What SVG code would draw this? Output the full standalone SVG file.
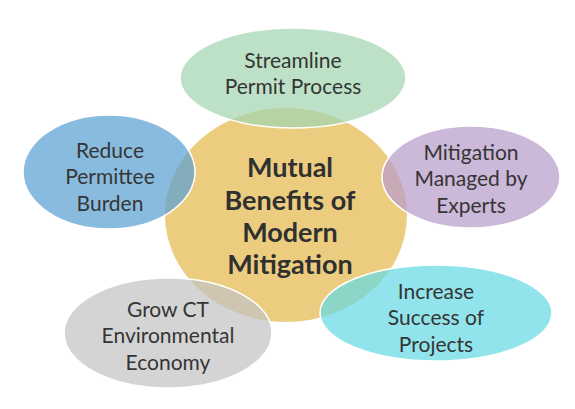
<svg xmlns="http://www.w3.org/2000/svg" width="575" height="409" viewBox="0 0 575 409">
<style>
.o{stroke:#fff;stroke-width:1.5;fill-opacity:0.72}
.t{font-family:Lato,"Liberation Sans",sans-serif;font-size:21px;fill:#353535;text-anchor:middle}
.c{font-family:Lato,"Liberation Sans",sans-serif;font-size:27px;font-weight:bold;fill:#303030;text-anchor:middle}
</style>
<rect width="575" height="409" fill="#fff"/>
<g id="center">
<ellipse cx="286" cy="215" rx="121" ry="107" fill="#ECCD80"/>
</g>
<g id="connectors"></g>
<g id="streamline">
<ellipse class="o" cx="293" cy="78" rx="113" ry="50" fill="#A3D6B0"/>
<text class="t" x="293" y="67.5">Streamline</text>
<text class="t" x="293" y="94">Permit Process</text>
</g>
<g id="reduce">
<ellipse class="o" cx="109" cy="172" rx="86" ry="57" fill="#5CA1D3"/>
<text class="t" x="110" y="157.5">Reduce</text>
<text class="t" x="110" y="183.5">Permittee</text>
<text class="t" x="110" y="210.5">Burden</text>
</g>
<g id="experts">
<ellipse class="o" cx="471" cy="177" rx="89" ry="51" fill="#B99DC9"/>
<text class="t" x="471" y="160">Mitigation</text>
<text class="t" x="471" y="186">Managed by</text>
<text class="t" x="471" y="212.5">Experts</text>
</g>
<g id="success">
<ellipse class="o" cx="436" cy="313" rx="116" ry="48" fill="#67D9E3"/>
<text class="t" x="436" y="299">Increase</text>
<text class="t" x="436" y="325">Success of</text>
<text class="t" x="436" y="351.5">Projects</text>
</g>
<g id="grow">
<ellipse class="o" cx="168" cy="333" rx="104" ry="55" fill="#C3C3C3"/>
<text class="t" x="168" y="316.5">Grow CT</text>
<text class="t" x="168" y="343">Environmental</text>
<text class="t" x="168" y="370">Economy</text>
</g>
<g id="center-label">
<text class="c" x="290" y="176.5">Mutual</text>
<text class="c" x="290" y="209.5">Benefits of</text>
<text class="c" x="290" y="241.5">Modern</text>
<text class="c" x="290" y="273.5">Mitigation</text>
</g>
</svg>
